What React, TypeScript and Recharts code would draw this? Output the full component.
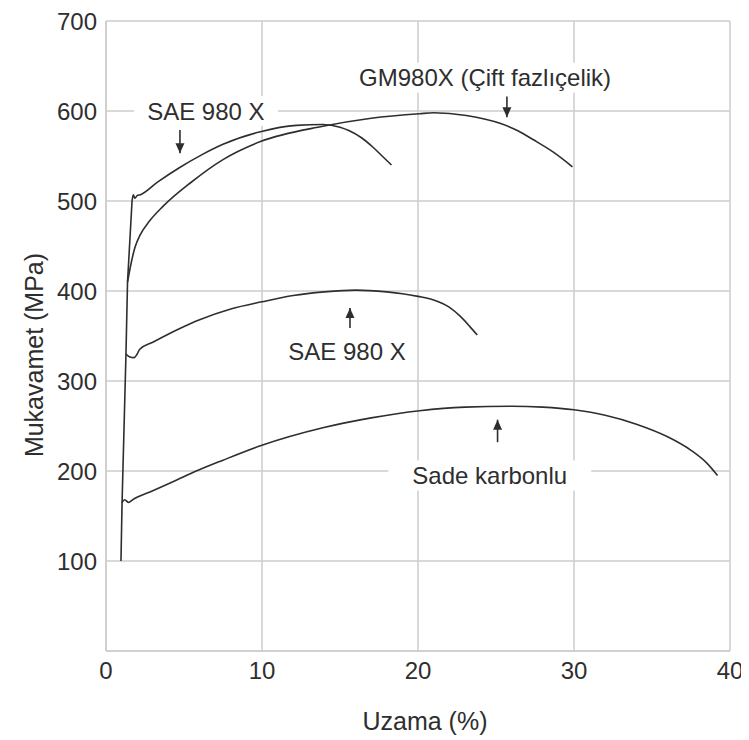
import {
  LineChart,
  Line,
  XAxis,
  YAxis,
  CartesianGrid,
  ReferenceDot,
  ReferenceLine,
  Label,
} from "recharts";

// elastic part shared by all curves
const elastic = [
  { x: 0.96, y: 100 },
  { x: 1.03, y: 165 },
  { x: 1.28, y: 330 },
  { x: 1.38, y: 410 },
  { x: 1.67, y: 500 },
];

const sadeKarbonlu = [
  { x: 1.03, y: 165 },
  { x: 1.2, y: 168 },
  { x: 1.45, y: 165 },
  { x: 1.7, y: 168 },
  { x: 3, y: 178 },
  { x: 4.4, y: 189 },
  { x: 5.4, y: 197 },
  { x: 7.5, y: 212 },
  { x: 9.9, y: 228 },
  { x: 13.9, y: 248 },
  { x: 17, y: 259 },
  { x: 20.1, y: 267 },
  { x: 23, y: 271 },
  { x: 26, y: 272 },
  { x: 28, y: 271 },
  { x: 30, y: 268 },
  { x: 32, y: 262 },
  { x: 34, y: 252 },
  { x: 36, y: 238 },
  { x: 37.5, y: 223 },
  { x: 38.5, y: 209 },
  { x: 39.2, y: 195 },
];

const sae980Lower = [
  { x: 1.28, y: 330 },
  { x: 1.5, y: 327 },
  { x: 1.8, y: 326 },
  { x: 2.0, y: 330 },
  { x: 2.15, y: 335 },
  { x: 3, y: 343 },
  { x: 4.7, y: 358 },
  { x: 6, y: 368 },
  { x: 8, y: 380 },
  { x: 10, y: 388 },
  { x: 12, y: 395 },
  { x: 14, y: 399 },
  { x: 16, y: 401 },
  { x: 18, y: 399 },
  { x: 19, y: 397 },
  { x: 20, y: 394 },
  { x: 21, y: 390 },
  { x: 22, y: 382 },
  { x: 22.7, y: 372 },
  { x: 23.3, y: 361 },
  { x: 23.8, y: 351 },
];

const gm980x = [
  { x: 1.38, y: 410 },
  { x: 1.6, y: 430 },
  { x: 1.85, y: 448 },
  { x: 2.18, y: 462 },
  { x: 2.8, y: 478 },
  { x: 3.65, y: 494 },
  { x: 5.4, y: 520 },
  { x: 7.5, y: 546 },
  { x: 9.9, y: 566 },
  { x: 13.9, y: 583 },
  { x: 17, y: 592 },
  { x: 20.1, y: 597 },
  { x: 21, y: 598 },
  { x: 23.1, y: 595 },
  { x: 25.3, y: 586 },
  { x: 26.4, y: 578 },
  { x: 27.4, y: 568 },
  { x: 28.7, y: 554 },
  { x: 29.9, y: 538 },
];

const sae980Upper = [
  { x: 1.67, y: 500 },
  { x: 1.75, y: 507 },
  { x: 1.85, y: 503 },
  { x: 2.0, y: 506 },
  { x: 2.2, y: 507 },
  { x: 3.3, y: 521 },
  { x: 4.7, y: 537 },
  { x: 6.1, y: 551 },
  { x: 7.5, y: 563 },
  { x: 9.9, y: 577 },
  { x: 12.2, y: 584 },
  { x: 13.9, y: 585 },
  { x: 15, y: 582 },
  { x: 15.6, y: 578 },
  { x: 16.4, y: 570 },
  { x: 17.1, y: 560 },
  { x: 17.7, y: 550 },
  { x: 18.3, y: 540 },
];

const xTicks = [0, 10, 20, 30, 40];
const yTicks = [100, 200, 300, 400, 500, 600, 700];

// annotation texts, anchored in data units
const notes = [
  { text: "SAE 980 X", x: 6.4, y: 600, bg: 144 },
  { text: "GM980X (Çift fazlıçelik)", x: 24.3, y: 637, bg: 262 },
  { text: "SAE 980 X", x: 15.45, y: 333, bg: 124 },
  { text: "Sade karbonlu", x: 24.6, y: 195, bg: 203 },
];

// arrows: x, tail value, tip value
const arrows = [
  { x: 4.74, from: 579, to: 553 },
  { x: 25.7, from: 616, to: 593 },
  { x: 15.64, from: 359, to: 381 },
  { x: 25.1, from: 232, to: 257 },
];

const FONT = "'Liberation Sans', Arial, Helvetica, sans-serif";
const INK = "#2e2e2e";
const GRID = "#cccccc";

export default function App() {
  return (
    <LineChart
      width={741}
      height={732}
      margin={{ top: 13, right: 19, left: 0, bottom: 0 }}
      style={{ fontFamily: FONT }}
    >
      <CartesianGrid stroke={GRID} strokeWidth={1.5} />
      <XAxis
        type="number"
        dataKey="x"
        domain={[0, 40]}
        ticks={xTicks}
        height={89}
        tickLine={false}
        tickSize={0}
        tickMargin={11}
        axisLine={{ stroke: GRID, strokeWidth: 1.5 }}
        tick={{ fill: INK, fontSize: 24, fontFamily: FONT }}
      >
        <Label
          content={({ viewBox }: any) => (
            <text
              x={viewBox.x + viewBox.width / 2 + 7}
              y={viewBox.y + 79}
              textAnchor="middle"
              fill={INK}
              fontSize={25}
              fontFamily={FONT}
            >
              Uzama (%)
            </text>
          )}
        />
      </XAxis>
      <YAxis
        type="number"
        dataKey="y"
        domain={[0, 700]}
        ticks={yTicks}
        width={98}
        tickLine={false}
        tickSize={0}
        tickMargin={9}
        axisLine={{ stroke: GRID, strokeWidth: 1.5 }}
        tick={{ fill: INK, fontSize: 24, fontFamily: FONT }}
      >
        <Label
          content={({ viewBox }: any) => {
            const cx = 35;
            const cy = viewBox.y + viewBox.height / 2 + 19;
            return (
              <text
                x={cx}
                y={cy}
                transform={`rotate(-90, ${cx}, ${cy})`}
                textAnchor="middle"
                fill={INK}
                fontSize={25}
                fontFamily={FONT}
              >
                Mukavamet (MPa)
              </text>
            );
          }}
        />
      </YAxis>

      {notes.map((n, i) => (
        <ReferenceDot
          key={"n" + i}
          x={n.x}
          y={n.y}
          ifOverflow="visible"
          shape={(p: any) => (
            <g>
              <rect x={p.cx - n.bg / 2} y={p.cy - 15} width={n.bg} height={30} fill="#ffffff" />
              <text
                x={p.cx}
                y={p.cy}
                textAnchor="middle"
                dominantBaseline="central"
                fill={INK}
                fontSize={24}
                fontFamily={FONT}
              >
                {n.text}
              </text>
            </g>
          )}
        />
      ))}

      {arrows.map((a, i) => (
        <ReferenceLine
          key={"a" + i}
          segment={[
            { x: a.x, y: a.from },
            { x: a.x, y: a.to },
          ]}
          stroke={INK}
          strokeWidth={1.6}
          ifOverflow="visible"
        />
      ))}
      {arrows.map((a, i) => (
        <ReferenceDot
          key={"h" + i}
          x={a.x}
          y={a.to}
          ifOverflow="visible"
          shape={(p: any) => {
            const d = a.to < a.from ? 1 : -1; // 1 = pointing down
            return (
              <polygon
                points={`${p.cx - 4.5},${p.cy - d * 10} ${p.cx + 4.5},${p.cy - d * 10} ${p.cx},${p.cy}`}
                fill={INK}
              />
            );
          }}
        />
      ))}

      <Line data={elastic} dataKey="y" type="linear" stroke={INK} strokeWidth={1.6} dot={false} isAnimationActive={false} />
      <Line data={sadeKarbonlu} dataKey="y" type="monotone" stroke={INK} strokeWidth={1.6} dot={false} isAnimationActive={false} />
      <Line data={sae980Lower} dataKey="y" type="monotone" stroke={INK} strokeWidth={1.6} dot={false} isAnimationActive={false} />
      <Line data={gm980x} dataKey="y" type="monotone" stroke={INK} strokeWidth={1.6} dot={false} isAnimationActive={false} />
      <Line data={sae980Upper} dataKey="y" type="monotone" stroke={INK} strokeWidth={1.6} dot={false} isAnimationActive={false} />
    </LineChart>
  );
}
